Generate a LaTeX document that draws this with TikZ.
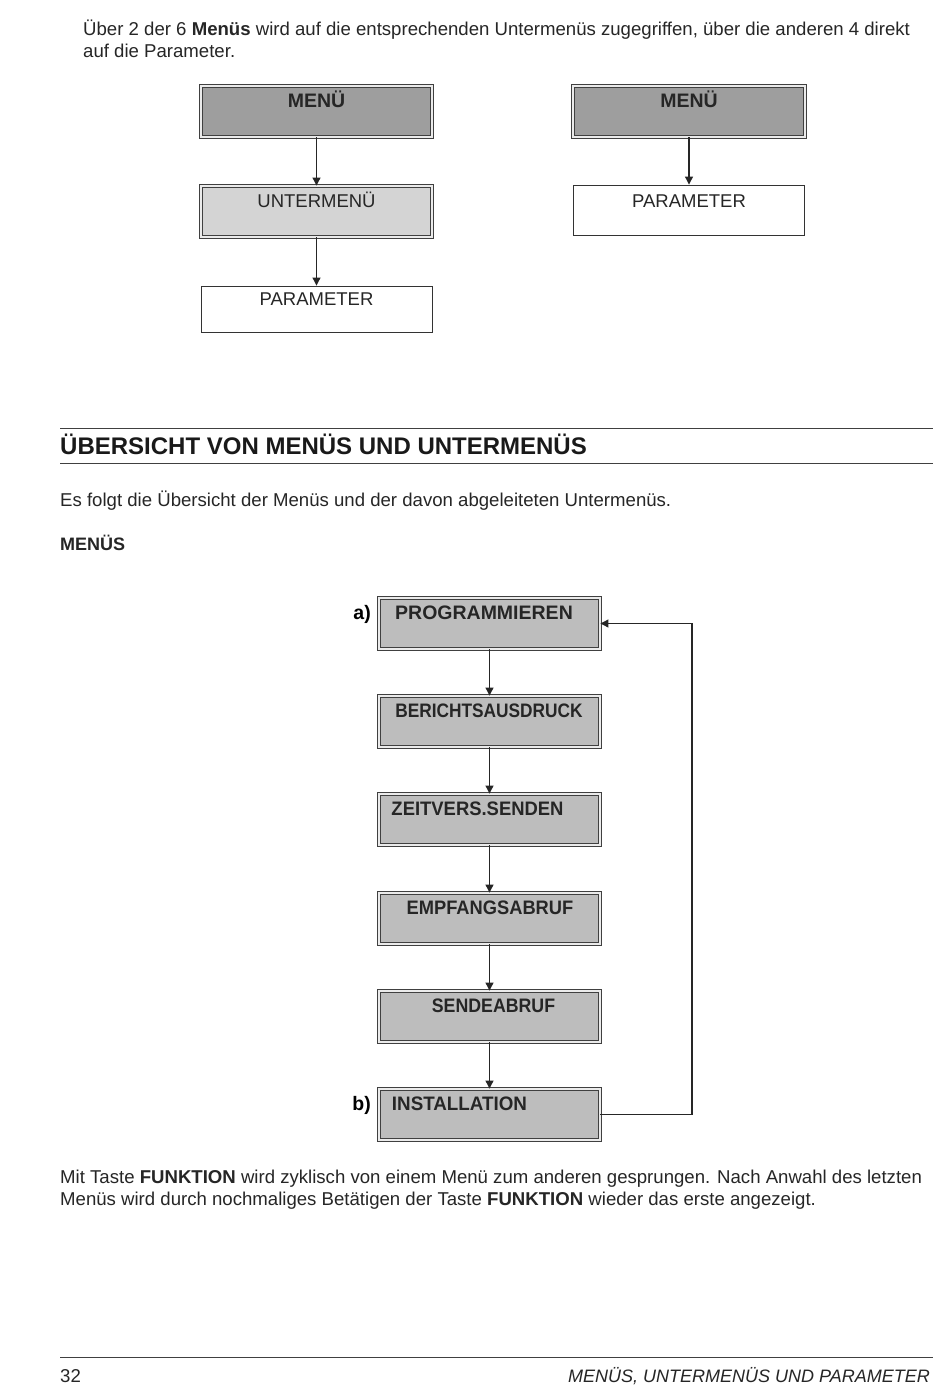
\documentclass[tikz,border=0pt]{standalone}
\usepackage{fontspec}
\usepackage{graphicx}
\setmainfont{Liberation Sans}
\usetikzlibrary{arrows.meta}
\tikzset{
  shadebox/.style={draw=black!75, line width=0.9pt, double=black!8, double distance=1.5pt, inner sep=0pt},
  plainbox/.style={draw=black!80, line width=0.9pt, fill=white, inner sep=0pt},
  boxtext/.style={font=\fontsize{18.5}{20}\selectfont, inner sep=0pt, anchor=base, text=black!85},
  boldtext/.style={font=\fontsize{19.5}{21}\selectfont\bfseries, inner sep=0pt, anchor=base, text=black!85},
  para/.style={font=\fontsize{18.6}{22}\selectfont, inner sep=0pt, anchor=base west, text=black!85},
  conn/.style={line width=1.1pt, black!85, -{Triangle[width=8pt,length=8pt]}},
  rule/.style={line width=0.9pt, black!75},
}
\begin{document}
\begin{tikzpicture}[x=1pt,y=-1pt]
\useasboundingbox[fill=white] (0,0) rectangle (950,1388);

% intro text
\node[para] (t1) at (83,35.5) {Über 2 der 6 \textbf{Menüs} wird auf die entsprechenden Untermenüs zugegriffen, über die anderen 4 direkt};
\node[para] (t2) at (83,57.5) {auf die Parameter.};

% left diagram
\node[shadebox, fill=black!38, minimum width=231, minimum height=51] (lm) at (316.5,111.5) {};
\node[boldtext] (lmt) at (316.5,108) {MENÜ};
\node[shadebox, fill=black!17, minimum width=231, minimum height=51] (lu) at (316.5,211.5) {};
\node[boxtext] (lut) at (316.5,207.5) {UNTERMENÜ};
\node[plainbox, minimum width=231, minimum height=46] (lp) at (316.5,309) {};
\node[boxtext] (lpt) at (316.5,305.5) {PARAMETER};
\draw[conn] (lm.south) -- (lu.north);
\draw[conn] (lu.south) -- (lp.north);

% right diagram
\node[shadebox, fill=black!38, minimum width=232, minimum height=51] (rm) at (689,111.5) {};
\node[boldtext] (rmt) at (689,108) {MENÜ};
\node[plainbox, minimum width=231, minimum height=50] (rp) at (689,210) {};
\node[boxtext] (rpt) at (689,207.5) {PARAMETER};
\draw[conn] (rm.south) -- (rp.north);

% heading
\coordinate (h1a) at (60,428); \coordinate (h1b) at (933,428);
\coordinate (h2a) at (60,463); \coordinate (h2b) at (933,463);
\draw[rule] (h1a) -- (h1b);
\draw[rule] (h2a) -- (h2b);
\node[font=\fontsize{24}{26}\selectfont\bfseries, inner sep=0pt, anchor=base west, text=black!90] (head) at (60,454.5) {ÜBERSICHT VON MENÜS UND UNTERMENÜS};

\node[para] (t3) at (60,506.5) {Es folgt die Übersicht der Menüs und der davon abgeleiteten Untermenüs.};
\node[para, font=\fontsize{18}{20}\selectfont\bfseries] (t4) at (60,550.5) {MENÜS};

% menu chain
\foreach \n/\y/\t/\tx/\sx in {b1/623.5/PROGRAMMIEREN/484/1.0, b2/721.5/BERICHTSAUSDRUCK/489/0.887, b3/819.5/ZEITVERS.SENDEN/477.5/0.945, b4/918.5/EMPFANGSABRUF/490/0.938, b5/1016.5/SENDEABRUF/493.5/0.91, b6/1114.5/INSTALLATION/459.5/0.964}{
  \node[shadebox, fill=black!26, minimum width=221, minimum height=51] (\n) at (489.5,\y) {};
  \node[boldtext] (\n t) at (\tx,\y-4.5) {\scalebox{\sx}[1]{\t}};
}
\node[boldtext, anchor=base east, text=black] (la) at (371,619) {a)};
\node[boldtext, anchor=base east, text=black] (lb) at (371,1110) {b)};
\draw[conn] (b1.south) -- (b2.north);
\draw[conn] (b2.south) -- (b3.north);
\draw[conn] (b3.south) -- (b4.north);
\draw[conn] (b4.south) -- (b5.north);
\draw[conn] (b5.south) -- (b6.north);
\coordinate (lpR) at (692,0);
\draw[conn] (b6.east) -- (b6.east -| lpR) -- (b1.east -| lpR) -- (b1.east);

% closing paragraph
\node[para] (t5) at (60,1183.5) {Mit Taste \textbf{FUNKTION} wird zyklisch von einem Menü zum anderen gesprungen. Nach Anwahl des letzten};
\node[para] (t6) at (60,1205.5) {Menüs wird durch nochmaliges Betätigen der Taste \textbf{FUNKTION} wieder das erste angezeigt.};

% footer
\coordinate (f1) at (60,1357); \coordinate (f2) at (933,1357);
\draw[rule] (f1) -- (f2);
\node[para] (pg) at (60,1382.5) {32};
\node[para, anchor=base east, font=\fontsize{18}{20}\selectfont\itshape] (ft) at (930,1382.5) {MENÜS, UNTERMENÜS UND PARAMETER};
\end{tikzpicture}
\end{document}
